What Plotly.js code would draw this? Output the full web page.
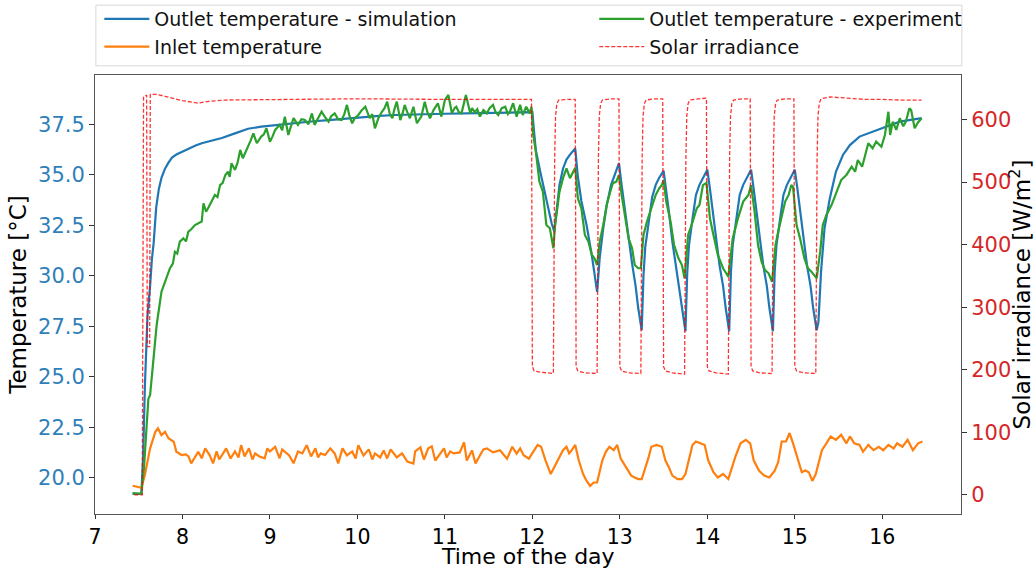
<!DOCTYPE html>
<html><head><meta charset="utf-8">
<script src="https://cdn.plot.ly/plotly-3.0.1.min.js"></script>
<style>html,body{margin:0;padding:0;background:#fff}#chart{width:1035px;height:570px}</style>
</head><body><div id="chart"></div>
<script>
// ---- Outlet temperature - simulation ----
const simTime = [7.43,7.53,7.55,7.57,7.60,7.61,7.63,7.65,7.67,7.70,7.73,7.76,7.80,7.84,7.88,7.93,8.00,8.07,8.15,8.22,8.30,8.45,8.60,8.75,8.90,9.10,9.29,9.50,9.67,9.85,10.05,10.25,10.43,10.70,11.00,11.40,11.70,11.99,
 12.00,12.02,12.04,12.09,12.16,12.22,12.25,12.27,12.31,12.35,12.39,12.43,12.49,
 12.52,12.56,12.62,12.68,12.74,12.77,12.81,12.85,12.90,12.96,12.99,
 13.02,13.06,13.10,13.14,13.18,13.21,13.25,13.27,13.29,13.33,13.37,13.41,13.45,13.50,
 13.53,13.56,13.60,13.64,13.68,13.71,13.75,13.77,13.79,13.83,13.87,13.91,13.95,14.00,
 14.03,14.06,14.10,14.14,14.18,14.21,14.25,14.27,14.29,14.33,14.37,14.41,14.45,14.50,
 14.53,14.56,14.60,14.64,14.68,14.71,14.75,14.77,14.79,14.83,14.87,14.91,14.95,15.00,
 15.03,15.06,15.10,15.14,15.18,15.21,15.25,15.27,15.30,15.34,15.40,15.47,15.55,15.63,15.74,15.89,16.05,16.20,16.45];
const simTemp = [19.2,19.2,21.0,24.5,28.0,28.4,29.5,30.8,31.6,33.4,34.3,34.85,35.3,35.6,35.85,36.0,36.15,36.3,36.45,36.56,36.65,36.82,37.05,37.28,37.38,37.48,37.58,37.65,37.71,37.78,37.85,37.92,37.96,38.0,38.02,38.05,38.08,38.12,
 38.10,37.10,36.20,35.15,33.70,32.60,32.20,33.0,34.5,35.3,35.75,36.0,36.3,
 34.9,33.7,32.5,31.0,29.2,30.9,32.35,33.5,34.5,35.15,35.57,
 34.5,33.2,31.8,30.6,29.5,28.4,27.3,30.0,31.4,32.8,33.9,34.5,34.85,35.2,
 34.3,33.2,31.7,30.5,29.5,28.4,27.25,30.1,31.5,32.8,34.0,34.5,34.85,35.25,
 34.3,33.2,31.7,30.5,29.5,28.4,27.25,30.2,31.5,32.85,34.0,34.5,34.85,35.25,
 34.3,33.2,31.7,30.5,29.5,28.4,27.25,30.2,31.5,32.85,34.0,34.5,34.85,35.25,
 34.3,33.2,31.7,30.5,29.5,28.4,27.3,27.7,30.2,32.35,33.83,35.15,35.98,36.47,36.89,37.13,37.38,37.63,37.8];

// ---- Inlet temperature ----
const inTime = [7.43,7.47,7.53,7.57,7.63,7.69,7.72,7.76,7.80,7.84,7.90,7.93,7.99,8.04,8.07,8.10,8.14,8.18,8.22,8.26,8.31,8.35,8.39,8.42,8.45,8.50,8.55,8.60,8.64,8.67,8.71,8.76,8.80,8.83,8.88,8.94,8.97,9.00,9.06,9.11,9.14,9.17,9.22,9.27,9.32,9.37,9.42,9.47,9.52,9.55,9.58,9.63,9.69,9.74,9.78,9.83,9.88,9.94,9.98,10.01,10.07,10.13,10.17,10.20,
 10.26,10.30,10.34,10.38,10.45,10.51,10.57,10.64,10.66,10.72,10.76,10.81,10.85,10.89,10.95,10.99,11.02,11.06,11.10,11.17,11.22,11.25,11.31,11.35,11.40,11.44,11.48,11.55,
 11.63,11.68,11.71,11.77,11.82,11.86,11.90,11.96,12.02,12.06,12.10,12.15,12.21,12.25,12.31,12.35,12.39,12.42,12.45,12.49,12.53,12.58,12.62,12.66,12.70,12.74,12.80,12.84,12.88,12.93,12.97,
 13.01,13.07,13.13,13.17,13.21,13.25,13.29,13.33,13.36,13.42,13.48,13.52,13.56,13.60,13.66,13.71,13.75,13.79,13.83,13.87,13.93,13.97,
 14.01,14.07,14.12,14.18,14.24,14.28,14.32,14.38,14.44,14.49,14.53,14.59,14.65,14.71,14.77,14.81,14.85,14.90,14.94,14.98,
 15.04,15.08,15.12,15.16,15.20,15.24,15.27,15.31,15.35,15.41,15.47,15.53,15.59,15.63,15.68,15.74,15.78,15.84,15.90,15.96,16.01,16.07,16.13,16.17,16.23,16.29,16.35,16.41,16.46];
const inTemp = [19.6,19.55,19.5,20.13,21.45,22.27,22.44,22.1,22.27,21.95,21.78,21.28,21.12,21.15,21.04,20.71,21.0,21.28,20.96,21.45,21.12,20.71,21.3,20.9,21.1,21.45,20.95,21.3,21.0,21.61,21.05,21.45,20.9,21.2,21.05,20.96,21.45,21.3,21.53,20.96,21.4,21.3,21.1,20.71,21.3,21.2,21.61,21.05,21.45,21.0,21.2,21.12,21.45,21.2,20.71,21.45,21.1,21.3,20.95,21.61,21.1,21.4,20.9,21.2,
 21.0,21.35,20.95,21.4,21.0,21.2,20.8,20.7,21.3,21.5,20.9,21.45,21.55,20.85,21.2,21.45,21.0,21.3,21.2,21.25,21.75,20.85,21.35,20.7,21.1,21.4,21.45,21.25,
 21.36,21.1,20.94,21.53,21.19,21.45,21.11,20.94,21.36,21.62,21.53,20.86,20.18,20.52,21.03,21.36,21.53,21.2,21.36,21.62,20.86,20.18,19.84,19.59,19.76,19.76,20.86,21.28,21.53,21.36,21.62,
 20.94,20.52,20.10,20.01,19.93,19.93,20.43,21.03,21.53,21.62,21.53,20.86,20.52,20.10,19.93,19.93,20.18,20.86,21.62,21.79,21.70,21.62,
 20.86,20.27,20.01,20.18,19.93,20.52,21.03,21.70,21.87,21.70,20.86,20.35,20.10,20.01,20.35,20.77,21.79,21.79,22.21,21.70,
 20.86,20.27,20.35,20.27,19.84,20.18,20.69,21.36,21.62,22.04,21.87,22.12,21.70,22.04,21.70,21.62,21.28,21.62,21.36,21.53,21.36,21.62,21.45,21.70,21.53,21.87,21.36,21.70,21.79];

// ---- Outlet temperature - experiment ----
const expTime = [7.43,7.53,7.56,7.59,7.61,7.63,7.667,7.705,7.76,7.82,7.857,7.89,7.914,7.94,7.97,8.01,8.04,8.067,8.10,8.143,8.18,8.22,8.24,8.27,8.30,8.33,8.37,8.40,8.43,8.46,8.49,8.52,8.54,8.56,8.60,8.63,8.66,8.69,8.72,8.75,8.78,8.81,8.85,8.90,8.93,8.96,9.00,9.03,9.06,9.11,9.14,9.17,9.21,9.24,9.27,9.32,9.36,9.40,9.44,9.48,9.51,9.55,9.59,9.63,9.67,9.70,9.74,9.78,9.82,9.85,9.88,9.91,9.94,9.97,
 10.01,10.05,10.09,10.14,10.17,10.20,10.24,10.28,10.31,10.34,10.37,10.40,10.42,10.45,10.49,10.52,10.54,10.57,10.60,10.64,10.66,10.68,10.73,10.77,10.80,10.83,10.87,10.92,10.96,
 11.00,11.04,11.08,11.11,11.13,11.16,11.19,11.24,11.29,11.31,11.34,11.37,11.40,11.44,11.48,11.51,11.55,11.58,11.61,11.65,11.69,11.72,11.74,11.78,11.82,11.86,11.89,11.93,11.97,11.99,
 12.01,12.04,12.08,12.12,12.14,12.16,12.20,12.24,12.26,12.30,12.31,12.35,12.39,12.43,12.47,12.49,12.52,12.56,12.60,12.64,12.68,12.71,12.74,12.77,12.81,12.85,12.89,12.92,12.96,12.99,
 13.02,13.06,13.10,13.14,13.17,13.21,13.24,13.27,13.31,13.36,13.41,13.45,13.48,13.50,13.53,13.58,13.62,13.67,13.71,13.74,13.78,13.82,13.88,13.91,13.95,13.99,
 14.03,14.07,14.12,14.18,14.24,14.29,14.35,14.41,14.47,14.50,14.54,14.58,14.62,14.66,14.70,14.74,14.78,14.81,14.85,14.89,14.93,14.96,14.98,
 15.02,15.06,15.11,15.15,15.19,15.25,15.29,15.32,15.36,15.42,15.48,15.53,15.59,15.65,15.69,15.72,15.77,15.81,15.84,15.89,15.93,15.99,
 16.03,16.07,16.09,16.12,16.16,16.20,16.24,16.27,16.31,16.33,16.37,16.41,16.45];
const expTemp = [19.23,19.2,20.5,22.8,23.9,24.1,25.9,27.56,29.21,29.89,30.37,30.6,31.19,31.1,31.69,31.85,31.7,32.18,32.3,32.51,32.6,32.68,33.59,33.17,33.4,33.67,34.0,33.9,34.49,34.6,34.99,35.15,34.9,35.57,35.24,35.6,36.23,35.82,36.1,36.39,36.7,37.05,36.56,36.89,37.0,37.3,36.64,36.9,37.22,37.47,37.2,37.88,36.97,37.4,37.8,37.47,37.75,37.71,37.5,38.04,37.47,37.8,38.12,37.85,37.63,37.9,38.04,37.75,37.71,38.0,38.46,37.9,37.55,37.8,
 37.96,38.2,38.37,37.8,38.0,37.3,37.8,38.12,38.3,38.62,38.0,37.8,38.2,38.62,37.71,38.1,38.46,38.1,37.8,38.37,38.0,37.55,37.88,38.62,38.1,37.8,38.2,38.54,37.88,
 38.7,38.95,38.04,38.3,38.37,38.1,38.04,38.95,38.04,38.3,38.1,38.25,37.88,38.2,38.04,38.3,38.46,38.1,37.96,38.3,38.37,38.0,38.1,38.54,37.88,38.46,37.96,38.37,38.04,38.37,
 36.97,36.14,34.66,34.16,33.34,32.51,32.35,31.36,32.51,33.67,34.16,34.83,35.32,34.83,35.24,35.35,33.83,33.34,32.02,31.69,31.03,30.86,30.53,31.69,32.51,33.5,34.16,34.58,34.66,34.99,
 34.0,32.84,31.85,31.36,30.53,30.37,30.37,32.02,32.68,33.34,34.0,34.33,34.49,34.74,33.67,32.68,31.52,30.86,30.53,29.87,32.02,32.51,33.34,33.5,34.49,34.6,
 32.84,32.02,31.03,30.37,29.95,31.85,32.84,33.67,34.0,34.49,33.17,31.52,30.7,30.28,30.12,29.7,31.52,32.18,33.0,33.67,34.0,34.49,34.4,
 32.51,31.85,30.86,30.37,30.2,29.87,31.19,32.51,33.0,33.5,34.16,34.74,34.99,35.4,35.15,35.73,35.4,36.14,36.56,36.31,36.64,36.39,
 36.97,38.12,36.97,37.63,37.22,37.8,37.4,37.63,38.29,38.2,37.3,37.6,37.8];

// ---- Solar irradiance ----
const solTime = [7.45,7.54,7.555,7.59,7.598,7.625,7.632,7.70,7.80,8.00,8.18,8.30,8.50,9.00,10.00,11.00,11.99,
 12.00,12.02,12.10,12.24,12.255,12.265,12.28,12.30,12.40,12.49,
 12.50,12.52,12.60,12.74,12.755,12.765,12.78,12.80,12.90,12.99,
 13.00,13.02,13.10,13.24,13.255,13.265,13.28,13.30,13.40,13.49,
 13.50,13.52,13.60,13.74,13.755,13.765,13.78,13.80,13.90,13.99,
 14.00,14.02,14.10,14.24,14.255,14.265,14.28,14.30,14.40,14.49,
 14.50,14.52,14.60,14.74,14.755,14.765,14.78,14.80,14.90,14.99,
 15.00,15.02,15.10,15.24,15.255,15.265,15.28,15.30,15.40,15.60,15.80,16.00,16.20,16.45];
const solIrr = [0,0,636,639,237,237,640,640,637,630,626,629,631,632,633,632,632,
 205,198,196,194,540,605,625,631,632,632,
 205,198,195,194,540,605,625,631,633,633,
 205,198,195,194,540,605,625,631,633,633,
 205,198,195,193,540,605,625,631,633,634,
 205,198,195,193,540,605,625,631,633,633,
 205,198,195,194,540,605,625,631,633,633,
 205,198,195,194,540,605,626,633,636,634,632,632,631,631];

const traces = [
 {x: simTime, y: simTemp, name: 'Outlet temperature - simulation', type: 'scatter', mode: 'lines', legend: 'legend', legendrank: 1,
  line: {color: '#1f77b4', width: 2.2}},
 {x: inTime, y: inTemp, name: 'Inlet temperature', type: 'scatter', mode: 'lines', legend: 'legend', legendrank: 2,
  line: {color: '#ff7f0e', width: 2.2}},
 {x: expTime, y: expTemp, name: 'Outlet temperature - experiment', type: 'scatter', mode: 'lines', legend: 'legend2', legendrank: 1,
  line: {color: '#2ca02c', width: 2.2}},
 {x: solTime, y: solIrr, name: 'Solar irradiance', type: 'scatter', mode: 'lines', yaxis: 'y2', legend: 'legend2', legendrank: 2,
  line: {color: 'rgba(255,0,0,0.8)', width: 1.3, dash: '4px,2px'}}
];

const legFont = {family: 'DejaVu Sans', size: 19, color: '#111'};
const layout = {
 width: 1035, height: 570,
 margin: {l: 95, r: 74, t: 75, b: 56, autoexpand: false},
 paper_bgcolor: '#fff', plot_bgcolor: '#fff',
 font: {family: 'DejaVu Sans', color: '#000'},
 showlegend: true,
 legend: {orientation: 'v', x: 0.005, xanchor: 'left', yref: 'container', y: 1, yanchor: 'top', itemwidth: 45,
  font: legFont, bgcolor: 'rgba(0,0,0,0)', borderwidth: 0, traceorder: 'normal', tracegroupgap: 0},
 legend2: {orientation: 'v', x: 0.5765, xanchor: 'left', yref: 'container', y: 1, yanchor: 'top', itemwidth: 45,
  font: legFont, bgcolor: 'rgba(0,0,0,0)', borderwidth: 0, traceorder: 'normal', tracegroupgap: 0},
 shapes: [{type: 'rect', xref: 'paper', yref: 'paper', x0: 0.001, x1: 1.001, y0: 1.021, y1: 1.159,
  line: {color: '#d8d8d8', width: 1}, fillcolor: '#fff', layer: 'below'}],
 annotations: [{text: 'Time of the day', xref: 'paper', yref: 'paper', x: 0.5, xanchor: 'center',
  y: -0.1276, yanchor: 'bottom', showarrow: false, borderpad: 0, font: {family: 'DejaVu Sans', size: 22, color: '#000'}}],
 xaxis: {range: [7.0, 16.9], tickmode: 'linear', tick0: 7, dtick: 1, showgrid: false, zeroline: false,
  showline: true, mirror: true, linecolor: '#555', linewidth: 1, ticks: 'outside', ticklen: 4, tickcolor: '#333',
  tickfont: {family: 'DejaVu Sans', size: 20.5, color: '#000'}},
 yaxis: {range: [18.2, 39.94], tickmode: 'linear', tick0: 20, dtick: 2.5, tickformat: '.1f', showgrid: false, zeroline: false,
  showline: true, linecolor: '#555', linewidth: 1, ticks: 'outside', ticklen: 5, tickcolor: '#333',
  tickfont: {family: 'DejaVu Sans', size: 21, color: '#2f7fbb'},
  title: {text: 'Temperature [°C]', font: {family: 'DejaVu Sans', size: 23, color: '#000'}, standoff: 4}},
 yaxis2: {overlaying: 'y', side: 'right', range: [-30.5, 671], tickmode: 'linear', tick0: 0, dtick: 100, showgrid: false, zeroline: false,
  showline: true, linecolor: '#555', linewidth: 1, ticks: 'outside', ticklen: 5, tickcolor: '#333',
  tickfont: {family: 'DejaVu Sans', size: 21, color: '#d62728'},
  title: {text: 'Solar irradiance [W/m<sup>2</sup>]', font: {family: 'DejaVu Sans', size: 23, color: '#000'}, standoff: 4}}
};
Plotly.newPlot('chart', traces, layout, {displayModeBar: false, responsive: false});
</script></body></html>
